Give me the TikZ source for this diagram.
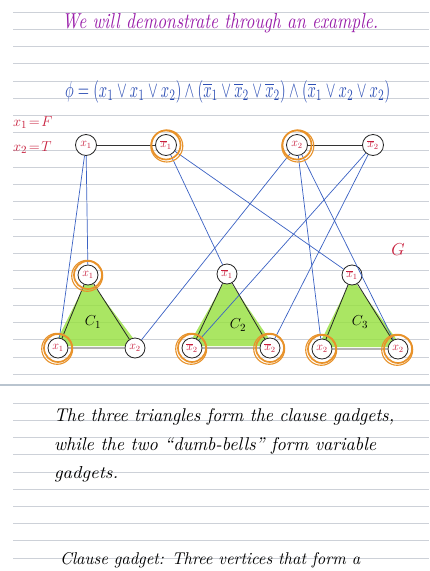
\documentclass[tikz,border=0pt]{standalone}
\usepackage{amsmath}
\pgfdeclarelayer{bg}
\pgfdeclarelayer{fillayer}
\pgfsetlayers{bg,fillayer,main}
\definecolor{rule}{HTML}{CDD1D8}
\definecolor{sepc}{HTML}{B9C4CF}
\definecolor{purp}{HTML}{9A1FAA}
\definecolor{fblue}{HTML}{2D4FB5}
\definecolor{lblue}{HTML}{3B62C4}
\definecolor{lred}{HTML}{C81E3C}
\definecolor{ring}{HTML}{E8922A}
\definecolor{lgreen}{HTML}{95E03C}
\newcommand{\nx}{\overline{x}}
\tikzset{
  vtx/.style={circle,draw=black!85,line width=0.8pt,fill=white,minimum size=21pt,inner sep=0pt,text=lred,font=\fontsize{12}{12}\selectfont},
  tvtx/.style={vtx,minimum size=20pt},
  link/.style={lblue,line width=0.7pt},
  bar/.style={black!80,line width=1pt},
  tri/.style={black!85,line width=0.8pt},
  ringc/.style={ring,line width=1.7pt},
  txt/.style={anchor=base west,inner sep=0pt,font=\itshape}
}
\begin{document}
\begin{tikzpicture}[x=1pt,y=-1pt]
\useasboundingbox (0,0) rectangle (430,571);
\clip (0,0) rectangle (430,571);
\begin{pgfonlayer}{bg}
\fill[white] (0,0) rectangle (430,571);
\foreach \k in {0,...,21} \draw[rule,line width=0.6pt] (13,{12+17.24*\k}) -- (429,{12+17.24*\k});
\foreach \k in {0,...,9} \draw[rule,line width=0.6pt] (13,{403+17.2*\k}) -- (429,{403+17.2*\k});
\draw[sepc,line width=2.5pt] (0,385) -- (430,385);
\end{pgfonlayer}

% title and formula
\node[txt,text=purp] (title) at (62,28) {\resizebox{316pt}{15pt}{We will demonstrate through an example.}};
\node[anchor=base west,inner sep=0pt,text=fblue] (phi) at (65,97) {\resizebox{325pt}{17pt}{$\phi = (x_1 \vee x_1 \vee x_2) \wedge (\nx_1 \vee \nx_2 \vee \nx_2) \wedge (\nx_1 \vee x_2 \vee x_2)$}};
\node[anchor=base west,inner sep=0pt,text=lred,font=\fontsize{15}{15}\selectfont] (a1) at (13,126) {$x_1\!=\!F$};
\node[anchor=base west,inner sep=0pt,text=lred,font=\fontsize{15}{15}\selectfont] (a2) at (13,151) {$x_2\!=\!T$};
\node[text=lred,font=\fontsize{17}{17}\selectfont] (G) at (398,250) {$G$};

% variable gadgets
\node[vtx] (v1) at (86,145) {$x_1$};
\node[vtx] (v1n) at (166,145) {$\nx_1$};
\node[vtx] (v2) at (297,145) {$x_2$};
\node[vtx] (v2n) at (373,145) {$\nx_2$};
\draw[bar] (v1) -- (v1n);
\draw[bar] (v2) -- (v2n);

% clause gadgets
\node[tvtx] (a) at (88,275) {$x_1$};
\node[tvtx] (b) at (58,348) {$x_1$};
\node[tvtx] (c) at (135,348) {$x_2$};
\node[tvtx] (d) at (227,274) {$\nx_1$};
\node[tvtx] (e) at (192,348) {$\nx_2$};
\node[tvtx] (f) at (270,348) {$\nx_2$};
\node[tvtx] (g) at (352,275) {$\nx_1$};
\node[tvtx] (h) at (322,349) {$x_2$};
\node[tvtx] (i) at (398,349) {$x_2$};

\begin{pgfonlayer}{fillayer}
\fill[lgreen,opacity=0.8] ([yshift=-3pt]a.center) -- ([xshift=-4pt,yshift=2pt]b.center) -- ([xshift=4pt,yshift=2pt]c.center) -- cycle;
\fill[lgreen,opacity=0.8] ([yshift=-3pt]d.center) -- ([xshift=-4pt,yshift=2pt]e.center) -- ([xshift=4pt,yshift=2pt]f.center) -- cycle;
\fill[lgreen,opacity=0.8] ([yshift=-3pt]g.center) -- ([xshift=-4pt,yshift=2pt]h.center) -- ([xshift=4pt,yshift=2pt]i.center) -- cycle;
\end{pgfonlayer}
\draw[tri] (a) -- (b) -- (c) -- (a);
\draw[tri] (d) -- (e) -- (f) -- (d);
\draw[tri] (g) -- (h) -- (i) -- (g);
\node[font=\fontsize{15}{15}\selectfont] (C1) at (93,322) {$C_1$};
\node[font=\fontsize{15}{15}\selectfont] (C2) at (238,325) {$C_2$};
\node[font=\fontsize{15}{15}\selectfont] (C3) at (360,322) {$C_3$};

% connections
\draw[link] (v1) -- (a);
\draw[link] (v1) -- (b);
\draw[link] (v1n) -- (d);
\draw[link] (v1n) -- (g);
\draw[link] (v2) -- (c);
\draw[link] (v2) -- (h);
\draw[link] (v2) -- (i);
\draw[link] (v2n) -- (e);
\draw[link] (v2n) -- (f);

% orange rings (chosen literals)
\foreach \n in {v1n,v2} {
  \draw[ringc] (\n) circle[radius=14.5];
  \draw[ringc,line width=1.1pt] ([shift={(0.8,1)}]\n.center) circle[radius=16];
}
\foreach \n in {a,b,e,f,h,i} {
  \draw[ringc] (\n) circle[radius=14];
  \draw[ringc,line width=1.1pt] ([shift={(-0.8,0.8)}]\n.center) circle[radius=15.5];
}

% bottom text
\node[txt] (t1) at (54,421) {\resizebox{340pt}{13pt}{The three triangles form the clause gadgets,}};
\node[txt] (t2) at (54,450) {\resizebox{322pt}{13pt}{while the two ``dumb-bells'' form variable}};
\node[txt] (t3) at (54,478) {\resizebox{64pt}{12pt}{gadgets.}};
\node[txt] (t4) at (60,564) {\resizebox{300pt}{12pt}{Clause gadget: Three vertices that form a}};
\end{tikzpicture}
\end{document}
